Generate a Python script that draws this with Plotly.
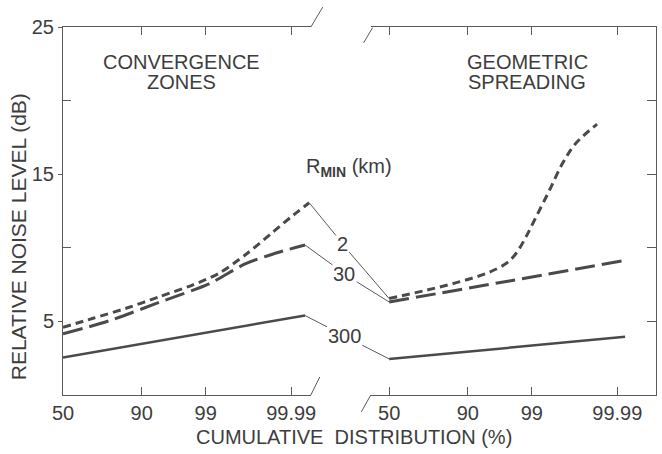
import plotly.graph_objects as go
from statistics import NormalDist

# ---------------- data ----------------
tick_pct = [50, 90, 99, 99.99]
tick_text = ["50", "90", "99", "99.99"]

# Convergence zones (left panel)
cz_pct_2 = [50, 68.8, 84.8, 94.2, 98.26, 99.45, 99.85, 99.966, 99.990, 99.997]
cz_val_2 = [4.6, 5.21, 5.89, 6.68, 7.47, 8.27, 9.51, 10.98, 12.1, 13.06]
cz_pct_30 = [50, 77.6, 94.2, 99.13, 99.85, 99.973, 99.996]
cz_val_30 = [4.15, 5.05, 6.3, 7.55, 8.9, 9.63, 10.19]
cz_pct_300 = [50, 99.996]
cz_val_300 = [2.55, 5.4]

# Geometric spreading (right panel)
gs_pct_2 = [50, 73.1, 87.6, 94.4, 97.2, 98.08, 98.72, 99.17, 99.55, 99.765, 99.883, 99.965]
gs_val_2 = [6.55, 7.13, 7.7, 8.27, 8.95, 9.63, 10.76, 12.1, 13.9, 15.74, 17.1, 18.4]
gs_pct_30 = [50, 97.5, 99.993]
gs_val_30 = [6.32, 7.75, 9.12]
gs_pct_300 = [50, 99.994]
gs_val_300 = [2.45, 3.95]

rmin_labels = ["2", "30", "300"]

nd = NormalDist()
def z(p):
    return [nd.inv_cdf(v / 100.0) for v in p]

INK = "#4a4a4a"
TXT = "#3d3d3d"
FONT = "Liberation Sans, Arial, sans-serif"

fig = go.Figure()

styles = {
    "2": dict(color=INK, width=3, dash="8px,5px"),
    "30": dict(color=INK, width=3, dash="20px,7px"),
    "300": dict(color=INK, width=2.5),
}

left = [("2", cz_pct_2, cz_val_2), ("30", cz_pct_30, cz_val_30), ("300", cz_pct_300, cz_val_300)]
right = [("2", gs_pct_2, gs_val_2), ("30", gs_pct_30, gs_val_30), ("300", gs_pct_300, gs_val_300)]

for name, p, v in left:
    fig.add_trace(go.Scatter(x=z(p), y=v, mode="lines", line=dict(shape="spline", smoothing=0.8, **styles[name]),
                             xaxis="x", yaxis="y", showlegend=False, hoverinfo="skip"))
for name, p, v in right:
    fig.add_trace(go.Scatter(x=z(p), y=v, mode="lines", line=dict(shape="spline", smoothing=1.0, **styles[name]),
                             xaxis="x2", yaxis="y2", showlegend=False, hoverinfo="skip"))

# ---------------- axes ----------------
xl_range = [0, 4.04]
xr_range = [-0.29, 4.35]
common_x = dict(showline=True, linecolor="#5a5a5a", linewidth=1, mirror="allticks",
                ticks="inside", ticklen=8, tickcolor="#5a5a5a", tickwidth=1,
                tickvals=z(tick_pct), ticktext=tick_text, showgrid=False, zeroline=False,
                tickfont=dict(family=FONT, size=20, color=TXT))

fig.update_layout(
    width=662, height=454,
    margin=dict(l=63, r=1, t=27, b=59),
    paper_bgcolor="white", plot_bgcolor="white",
    xaxis=dict(domain=[0, 0.418], range=xl_range, anchor="y", **common_x),
    xaxis2=dict(domain=[0.52, 1], range=xr_range, anchor="y2", **common_x),
    yaxis=dict(range=[0, 25], anchor="x", showline=True, linecolor="#5a5a5a", linewidth=1,
               ticks="outside", ticklen=4, tickcolor="#5a5a5a", tickvals=[5, 15, 25],
               minor=dict(tickvals=[10, 20], ticks="inside", ticklen=8, tickcolor="#5a5a5a"),
               showgrid=False, zeroline=False, tickfont=dict(family=FONT, size=20, color=TXT)),
    yaxis2=dict(range=[0, 25], anchor="x2", matches="y", side="right", showline=True,
                linecolor="#5a5a5a", linewidth=1, ticks="inside", ticklen=9, tickcolor="#5a5a5a",
                tickvals=[5, 10, 15, 20], showticklabels=False, showgrid=False, zeroline=False),
    font=dict(family=FONT, color=TXT),
)

# ---------------- break marks ----------------
brk = dict(color="#5a5a5a", width=1)
for (x0, y0, x1, y1) in [(0.418, 1.0, 0.438, 1.054), (0.507, 0.957, 0.522, 0.998),
                         (0.418, 0.0, 0.433, 0.049), (0.503, -0.046, 0.519, 0.0)]:
    fig.add_shape(type="line", xref="paper", yref="paper", x0=x0, y0=y0, x1=x1, y1=y1, line=brk)

# ---------------- text ----------------
def txt(text, x, y, size=20, **kw):
    fig.add_annotation(text=text, x=x, y=y, xref="paper", yref="paper", showarrow=False,
                       xanchor="center", yanchor="middle",
                       font=dict(family=FONT, size=size, color=TXT), **kw)

txt("CONVERGENCE", 0.199, 0.904)
txt("ZONES", 0.199, 0.850)
txt("GEOMETRIC", 0.783, 0.904)
txt("SPREADING", 0.783, 0.850)
txt("CUMULATIVE&nbsp; DISTRIBUTION (%)", 0.49, -0.114, size=20)
txt("RELATIVE NOISE LEVEL (dB)", -0.075, 0.43, size=21, textangle=-90)
txt("R<sub><b>MIN</b></sub> (km)", 0.483, 0.617, size=20)

# ---------------- curve labels with leader lines ----------------
label_px = {"2": (345, 244), "30": (347, 274), "300": (347, 336)}
def px_of(xr, xa, val, x0px, x1px):
    return x0px + (xa - xr[0]) / (xr[1] - xr[0]) * (x1px - x0px), 395 - val / 25 * 368

for (name, lp, lv), (_, rp, rv) in zip(left, right):
    lx, ly = label_px[name]
    zl, zr = z([lp[-1]])[0], z([rp[0]])[0]
    hx_l, hy_l = px_of(xl_range, zl, lv[-1], 63, 313)
    hx_r, hy_r = px_of(xr_range, zr, rv[0], 374, 661)
    fig.add_annotation(text=name, x=zr, y=rv[0], xref="x2", yref="y2", showarrow=True,
                       arrowhead=0, arrowwidth=1, arrowcolor="#5a5a5a", ax=lx - hx_r, ay=ly - hy_r,
                       font=dict(family=FONT, size=20, color=TXT))
    fig.add_annotation(text=name, x=zl, y=lv[-1], xref="x", yref="y", showarrow=True,
                       arrowhead=0, arrowwidth=1, arrowcolor="#5a5a5a", ax=lx - hx_l, ay=ly - hy_l,
                       font=dict(family=FONT, size=20, color="rgba(0,0,0,0)"))

fig.write_html("out.html")
